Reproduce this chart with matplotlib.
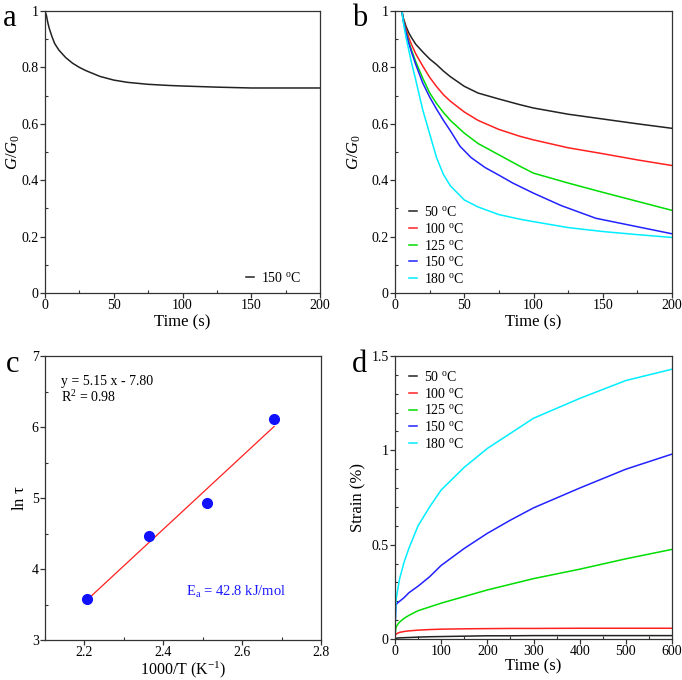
import matplotlib
matplotlib.use("Agg")
import matplotlib.pyplot as plt
from matplotlib.ticker import MultipleLocator, FuncFormatter
import numpy as np

plt.rcParams['font.family'] = ['Liberation Serif', 'DejaVu Serif']
plt.rcParams['mathtext.fontset'] = 'custom'
plt.rcParams['mathtext.rm'] = 'Liberation Serif'
plt.rcParams['mathtext.it'] = 'Liberation Serif:italic'
plt.rcParams['mathtext.bf'] = 'Liberation Serif:bold'

# ---------------- data ----------------
# panel a
t_a = [0, 1, 2, 3, 5, 7, 10, 15, 20, 25, 30, 40, 50, 60, 75, 90, 100, 125, 150, 175, 200]
g_a = [1.0, 0.985, 0.96, 0.94, 0.91, 0.885, 0.862, 0.835, 0.815, 0.8, 0.788, 0.768, 0.755,
       0.747, 0.74, 0.736, 0.734, 0.73, 0.727, 0.727, 0.727]

# panel b
t_b = [5, 6, 8, 10, 12, 15, 20, 25, 30, 35, 40, 50, 60, 75, 90, 100, 125, 150, 175, 200]
g_b50 = [1.0, 0.975, 0.945, 0.922, 0.905, 0.882, 0.855, 0.83, 0.81, 0.787, 0.767, 0.733, 0.709,
         0.688, 0.668, 0.656, 0.634, 0.617, 0.600, 0.584]
g_b100 = [1.0, 0.97, 0.935, 0.905, 0.88, 0.848, 0.805, 0.765, 0.732, 0.703, 0.68, 0.642, 0.612,
          0.58, 0.556, 0.543, 0.515, 0.494, 0.472, 0.452]
g_b125 = [1.0, 0.965, 0.925, 0.89, 0.86, 0.82, 0.762, 0.71, 0.672, 0.64, 0.612, 0.567, 0.53,
          0.49, 0.45, 0.425, 0.39, 0.357, 0.325, 0.293]
t_b150 = [5, 6, 8, 10, 12, 15, 20, 25, 30, 35, 40, 47, 55, 65, 75, 85, 100, 120, 145, 175, 200]
g_b150 = [1.0, 0.965, 0.922, 0.885, 0.853, 0.81, 0.745, 0.695, 0.652, 0.612, 0.575, 0.52,
          0.48, 0.445, 0.418, 0.39, 0.354, 0.31, 0.265, 0.235, 0.21]
g_b180 = [1.0, 0.96, 0.905, 0.86, 0.815, 0.755, 0.65, 0.565, 0.48, 0.42, 0.38, 0.33, 0.305,
          0.278, 0.262, 0.253, 0.232, 0.218, 0.207, 0.197]

temps = ['50', '100', '125', '150', '180']
colors = ['#222222', '#ff2020', '#00dd00', '#2222ff', '#00eeff']

# panel c
inv_T = [2.207, 2.364, 2.512, 2.681]
ln_tau = [3.58, 4.47, 4.93, 6.11]
slope, intercept = 5.15, -7.80

# panel d
t_d = [0, 2, 5, 10, 20, 30, 50, 75, 100, 150, 200, 250, 300, 400, 500, 600]
s_d50 = [0.0, 0.003, 0.005, 0.006, 0.007, 0.008, 0.01, 0.012, 0.013, 0.015, 0.017, 0.017, 0.018, 0.018, 0.018, 0.018]
s_d100 = [0.015, 0.025, 0.03, 0.035, 0.04, 0.043, 0.047, 0.05, 0.052, 0.054, 0.055, 0.056, 0.056, 0.057, 0.057, 0.057]
s_d125 = [0.02, 0.06, 0.075, 0.09, 0.11, 0.125, 0.15, 0.17, 0.19, 0.225, 0.26, 0.29, 0.32, 0.37, 0.425, 0.475]
s_d150 = [0.05, 0.18, 0.19, 0.2, 0.22, 0.245, 0.28, 0.33, 0.39, 0.48, 0.56, 0.63, 0.695, 0.80, 0.90, 0.98]
s_d180 = [0.05, 0.2, 0.25, 0.32, 0.41, 0.48, 0.6, 0.7, 0.79, 0.91, 1.01, 1.09, 1.17, 1.275, 1.37, 1.43]

# ---------------- figure ----------------
fig = plt.figure(figsize=(6.82, 6.80), dpi=100)
W, H = 682, 680

def make_ax(l, t, r, b):
    return fig.add_axes([l / W, 1 - b / H, (r - l) / W, (b - t) / H])

axa = make_ax(45, 11, 320, 293)
axb = make_ax(395, 11, 672, 293)
axc = make_ax(45, 356, 321, 640)
axd = make_ax(395, 356, 672, 639)

TICK = 10
LAB = 12

def style(ax, xmaj, xmin, ymaj, ymin):
    ax.xaxis.set_major_locator(MultipleLocator(xmaj))
    ax.xaxis.set_minor_locator(MultipleLocator(xmin))
    ax.yaxis.set_major_locator(MultipleLocator(ymaj))
    ax.yaxis.set_minor_locator(MultipleLocator(ymin))
    ax.tick_params(which='major', direction='out', length=3.5, width=0.9, labelsize=TICK,
                   top=False, right=False, pad=1.0, color='#333333')
    ax.tick_params(which='minor', direction='in', length=2.5, width=0.8,
                   top=False, right=False, color='#333333')
    for s in ax.spines.values():
        s.set_linewidth(0.9)
        s.set_color('#333333')
    ax.yaxis.set_major_formatter(FuncFormatter(lambda v, p: '%g' % v))

def labels(ax, xl, yl, xy_px, yx, xsize=LAB):
    ax.set_xlabel(xl, fontsize=xsize)
    ax.set_ylabel(yl, fontsize=LAB)
    h = ax.get_position().height * H
    ax.xaxis.set_label_coords(0.5, -xy_px / h)
    ax.yaxis.set_label_coords(yx, 0.5)

deg = r'$^{\mathrm{o}}$C'

# panel a
axa.plot(t_a, g_a, color='#222222', lw=1.1, label='150 ' + deg)
axa.set_xlim(0, 200)
axa.set_ylim(0, 1)
style(axa, 50, 25, 0.2, 0.1)
labels(axa, 'Time (s)', r'$\mathit{G/G_0}$', 21, -0.084)
axa.legend(loc='lower right', frameon=False, fontsize=TICK, handlelength=0.6,
           handletextpad=0.5, borderaxespad=0.6, bbox_to_anchor=(1 - 5 / 275, -6 / 282))

# panel b
series_b = [(t_b, g_b50), (t_b, g_b100), (t_b, g_b125), (t_b150, g_b150), (t_b, g_b180)]
for (tt, gg), c, T in zip(series_b, colors, temps):
    axb.plot(tt, gg, color=c, lw=1.1, label=T + ' ' + deg)
axb.set_xlim(0, 200)
axb.set_ylim(0, 1)
style(axb, 50, 25, 0.2, 0.1)
labels(axb, 'Time (s)', r'$\mathit{G/G_0}$', 21, -0.116)
axb.legend(loc='lower left', frameon=False, fontsize=TICK, handlelength=0.6,
           handletextpad=0.5, labelspacing=0.2, borderaxespad=0.6,
           bbox_to_anchor=(0, -7 / 282))

# panel c
xx = np.array([inv_T[0], inv_T[-1]])
axc.plot(xx, slope * xx + intercept, color='#ff2020', lw=0.9)
axc.plot(inv_T, ln_tau, 'o', color='#1010ff', ms=7)
axc.set_xlim(2.1, 2.8)
axc.set_ylim(3, 7)
style(axc, 0.2, 0.1, 1, 0.5)
axc.set_xticks([2.2, 2.4, 2.6, 2.8])
labels(axc, r'1000/T (K$^{-1}$)', r'ln $\mathrm{\tau}$', 19, -0.062, xsize=11.5)
axc.text(0.058, 0.909, 'y = 5.15 x - 7.80', transform=axc.transAxes, fontsize=TICK, va='center')
axc.text(0.058, 0.857, r'R$^{2}$ = 0.98', transform=axc.transAxes, fontsize=TICK, va='center')
axc.text(0.51, 0.168, r'E$_{\mathrm{a}}$ = 42.8 kJ/mol', transform=axc.transAxes, fontsize=10.5,
         va='center', color='#1a1aff')

# panel d
series_d = [s_d50, s_d100, s_d125, s_d150, s_d180]
for ss, c, T in zip(series_d, colors, temps):
    axd.plot(t_d, ss, color=c, lw=1.1, label=T + ' ' + deg)
axd.set_xlim(0, 600)
axd.set_ylim(0, 1.5)
style(axd, 100, 50, 0.5, 0.1)
labels(axd, 'Time (s)', 'Strain (%)', 19, -0.105)
axd.legend(loc='upper left', frameon=False, fontsize=TICK, handlelength=0.6,
           handletextpad=0.5, labelspacing=0.2, borderaxespad=0.6)

# panel letters
fig.text(3 / W, 1 - 4 / H, 'a', fontsize=22, va='top', ha='left')
fig.text(352 / W, 1 - 4 / H, 'b', fontsize=22, va='top', ha='left')
fig.text(6 / W, 1 - 350 / H, 'c', fontsize=22, va='top', ha='left')
fig.text(352 / W, 1 - 350 / H, 'd', fontsize=22, va='top', ha='left')

fig.savefig('out.png', dpi=100)
